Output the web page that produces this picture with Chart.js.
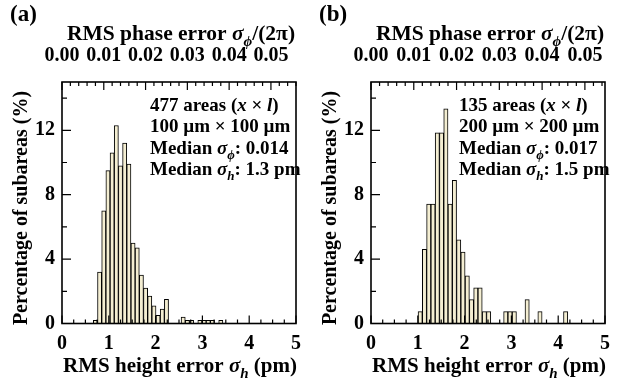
<!DOCTYPE html>
<html>
<head>
<meta charset="utf-8">
<script src="https://cdn.jsdelivr.net/npm/chart.js@4"></script>
<style>
  body { margin: 0; background: #fff; }
  .panel { position: absolute; top: 0; width: 309px; height: 380px; }
</style>
</head>
<body>
<div class="panel" style="left:0"><canvas id="histA" width="309" height="380"></canvas></div>
<div class="panel" style="left:309px"><canvas id="histB" width="309" height="380"></canvas></div>
<script>
// (a) 477 areas of 100 um x 100 um: bin centres in sigma_phi/(2pi) and % of subareas
const phaseA = [0.008, 0.009, 0.010, 0.011, 0.012, 0.013, 0.014, 0.015, 0.016, 0.017,
                0.018, 0.019, 0.020, 0.021, 0.022, 0.023, 0.024, 0.025,
                0.029, 0.030, 0.031, 0.033, 0.034, 0.035, 0.036, 0.038];
const pctA = [0.2, 3.2, 7.0, 9.5, 10.6, 12.3, 9.8, 11.2, 9.9, 5.0,
              4.7, 3.0, 2.2, 1.7, 1.1, 0.5, 0.9, 1.5,
              0.4, 0.2, 0.2, 0.2, 0.2, 0.2, 0.2, 0.2];

// (b) 135 areas of 200 um x 200 um
const phaseB = [0.0115, 0.0125, 0.0135, 0.0145, 0.0155, 0.0165, 0.0175, 0.0185, 0.0195, 0.0205,
                0.0215, 0.0225, 0.0235, 0.0245, 0.0255, 0.0265, 0.0275,
                0.0315, 0.0325, 0.0335, 0.0365, 0.0395, 0.0455];
const pctB = [0.74, 4.6, 7.41, 7.41, 11.85, 11.85, 13.33, 7.41, 8.89, 5.19,
              4.44, 2.96, 1.48, 2.22, 2.22, 0.74, 0.74,
              0.74, 0.74, 0.74, 1.48, 0.74, 0.74];

// axis ticks
const heightTicks = [0, 1, 2, 3, 4, 5];      // pm, bottom axis
const phaseTicks = [0.00, 0.01, 0.02, 0.03, 0.04, 0.05]; // top axis
const pctTicks = [0, 4, 8, 12];              // left axis labels

const serif = "'Liberation Serif', 'Times New Roman', serif";

// draws a line of text made of [string, style] parts; style n = bold, i = bold italic, s = italic subscript
function richText(ctx, parts, x, y, size, align) {
    const fontOf = p => (p[1] === 'n' ? 'bold ' : 'italic bold ') + (p[1] === 's' ? Math.round(size * 0.7) : size) + 'px ' + serif;
    let w = 0;
    parts.forEach(p => { ctx.font = fontOf(p); w += ctx.measureText(p[0]).width; });
    let cx = align === 'center' ? x - w / 2 : x;
    parts.forEach(p => {
        ctx.font = fontOf(p);
        ctx.fillText(p[0], cx, p[1] === 's' ? y + size * 0.28 : y);
        cx += ctx.measureText(p[0]).width;
    });
}

// frame, inward ticks and all titles
const decor = {
    id: 'decor',
    afterDatasetsDraw(chart, args, opts) {
        const { ctx, chartArea: a, scales } = chart;
        ctx.save();
        ctx.strokeStyle = '#000';
        ctx.lineWidth = 1.2;
        ctx.beginPath();
        for (let i = 0; i <= 20; i++) { // every 0.25 pm
            const px = scales.x.getPixelForValue(i * 0.25);
            ctx.moveTo(px, a.bottom);
            ctx.lineTo(px, a.bottom - (i % 4 === 0 ? 8 : 4));
        }
        for (let i = 0; i * 0.002 <= scales.xt.max + 1e-9; i++) { // every 0.002
            const px = scales.xt.getPixelForValue(i * 0.002);
            ctx.moveTo(px, a.top);
            ctx.lineTo(px, a.top + (i % 5 === 0 ? 8 : 4));
        }
        for (let v = 2; v <= 14; v += 2) {
            const py = scales.y.getPixelForValue(v);
            ctx.moveTo(a.left, py);
            ctx.lineTo(a.left + (v % 4 === 0 ? 9 : 5), py);
        }
        ctx.stroke();
        ctx.lineWidth = 1.6;
        ctx.strokeRect(a.left, a.top, a.right - a.left, a.bottom - a.top);

        ctx.fillStyle = '#000';
        ctx.textAlign = 'left';
        ctx.textBaseline = 'alphabetic';
        const mid = (a.left + a.right) / 2;
        richText(ctx, [['RMS phase error ', 'n'], ['σ', 'i'], ['ϕ', 's'], ['/(2π)', 'n']], mid + 2, 39.5, 21.5, 'center');
        richText(ctx, [['RMS height error ', 'n'], ['σ', 'i'], ['h', 's'], [' (pm)', 'n']], mid + 1, 372, 21, 'center');
        richText(ctx, [[opts.label, 'n']], 10, 21, 23, 'left');
        opts.info.forEach((line, i) => {
            richText(ctx, line, a.left + 88, a.top + 29 + i * 21.3, 19, 'left');
        });
        ctx.translate(27, 208);
        ctx.rotate(-Math.PI / 2);
        richText(ctx, [['Percentage of subareas (%)', 'n']], 0, 0, 20, 'center');
        ctx.restore();
    }
};

function makePanel(canvasId, phase, pct, phaseMax, padRight, label, info) {
    const tickFont = { family: serif, size: 20, weight: 'bold' };
    return new Chart(document.getElementById(canvasId), {
        type: 'bar',
        data: {
            datasets: [{
                data: phase.map((p, i) => ({ x: p, y: pct[i] })),
                xAxisID: 'xt',
                yAxisID: 'y',
                backgroundColor: '#f4eed2',
                borderColor: '#000',
                borderWidth: 1,
                barPercentage: 1,
                categoryPercentage: 1
            }]
        },
        options: {
            responsive: false,
            animation: false,
            layout: { padding: { left: 0, right: padRight, top: 0, bottom: 0 } },
            plugins: {
                legend: { display: false },
                tooltip: { enabled: false },
                decor: { label: label, info: info }
            },
            scales: {
                x: {
                    type: 'linear', position: 'bottom', min: 0, max: 5, offset: false,
                    grid: { display: false, drawTicks: false }, border: { display: false },
                    afterBuildTicks: s => { s.ticks = heightTicks.map(v => ({ value: v })); },
                    ticks: { font: tickFont, color: '#000', padding: 8, maxRotation: 0 },
                    afterFit: s => { s.height = 56.5; }
                },
                xt: {
                    type: 'linear', position: 'top', min: 0, max: phaseMax, offset: false,
                    grid: { display: false, drawTicks: false }, border: { display: false },
                    afterBuildTicks: s => { s.ticks = phaseTicks.map(v => ({ value: v })); },
                    ticks: { font: tickFont, color: '#000', padding: 14, maxRotation: 0, autoSkip: false,
                             callback: v => v.toFixed(2) },
                    afterFit: s => { s.height = 82; }
                },
                y: {
                    type: 'linear', min: 0, max: 15,
                    grid: { display: false, drawTicks: false }, border: { display: false },
                    afterBuildTicks: s => { s.ticks = pctTicks.map(v => ({ value: v })); },
                    ticks: { font: tickFont, color: '#000', padding: 7 },
                    afterFit: s => { s.width = 62; }
                }
            }
        },
        plugins: [decor]
    });
}

makePanel('histA', phaseA, pctA, 0.056, 6, '(a)', [
    [['477 areas (', 'n'], ['x', 'i'], [' × ', 'n'], ['l', 'i'], [')', 'n']],
    [['100 µm × 100 µm', 'n']],
    [['Median ', 'n'], ['σ', 'i'], ['ϕ', 's'], [': 0.014', 'n']],
    [['Median ', 'n'], ['σ', 'i'], ['h', 's'], [': 1.3 pm', 'n']]
]);

makePanel('histB', phaseB, pctB, 0.0547, 13, '(b)', [
    [['135 areas (', 'n'], ['x', 'i'], [' × ', 'n'], ['l', 'i'], [')', 'n']],
    [['200 µm × 200 µm', 'n']],
    [['Median ', 'n'], ['σ', 'i'], ['ϕ', 's'], [': 0.017', 'n']],
    [['Median ', 'n'], ['σ', 'i'], ['h', 's'], [': 1.5 pm', 'n']]
]);
</script>
</body>
</html>
